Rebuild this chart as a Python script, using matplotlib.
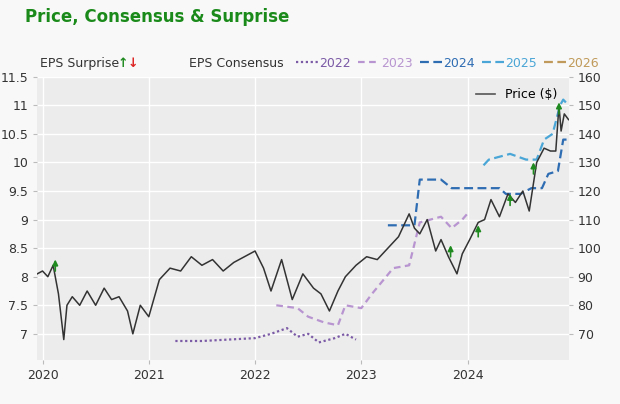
import matplotlib
matplotlib.use('Agg')
import matplotlib.pyplot as plt
from matplotlib.lines import Line2D

# price (right axis)
price_x = [2019.95, 2020.0, 2020.05, 2020.1, 2020.15, 2020.2, 2020.23, 2020.28, 2020.35, 2020.42, 2020.5,
           2020.58, 2020.65, 2020.72, 2020.8, 2020.85, 2020.92, 2021.0, 2021.1, 2021.2, 2021.3,
           2021.4, 2021.5, 2021.6, 2021.7, 2021.8, 2021.9, 2022.0, 2022.08, 2022.15, 2022.25,
           2022.35, 2022.45, 2022.55, 2022.62, 2022.7, 2022.78, 2022.85, 2022.95, 2023.05,
           2023.15, 2023.25, 2023.35, 2023.45, 2023.5, 2023.55, 2023.62, 2023.7, 2023.75, 2023.82,
           2023.9, 2023.95, 2024.02, 2024.1, 2024.16, 2024.22, 2024.3, 2024.38, 2024.45, 2024.52,
           2024.58, 2024.65, 2024.72, 2024.78, 2024.83, 2024.86, 2024.88, 2024.91, 2024.95]
price_y = [91, 92, 90, 94, 84, 68, 80, 83, 80, 85, 80,
           86, 82, 83, 78, 70, 80, 76, 89, 93, 92,
           97, 94, 96, 92, 95, 97, 99, 93, 85, 96,
           82, 91, 86, 84, 78, 85, 90, 94, 97,
           96, 100, 104, 112, 107, 105, 110, 99, 103, 97,
           91, 98, 103, 109, 110, 117, 111, 119, 116, 120,
           113, 130, 135, 134, 134, 150, 141, 147, 145]

con_2022_x = [2021.25, 2021.5, 2021.75, 2022.0, 2022.15, 2022.3, 2022.4, 2022.5, 2022.6, 2022.75, 2022.85, 2022.95]
con_2022_y = [67.5, 67.5, 68, 68.5, 70, 72, 69, 70, 67, 68.5, 70, 68]
con_2023_x = [2022.2, 2022.4, 2022.5, 2022.65, 2022.78, 2022.85, 2023.0, 2023.1, 2023.3, 2023.45, 2023.55, 2023.75, 2023.85, 2023.95, 2024.02]
con_2023_y = [80, 79, 76, 74, 73, 80, 79, 84, 93, 94, 109, 111, 107, 110, 113]
con_2024_x = [2023.25, 2023.5, 2023.55, 2023.75, 2023.85, 2024.3, 2024.36, 2024.5, 2024.6, 2024.7, 2024.76, 2024.85, 2024.9, 2024.95]
con_2024_y = [108, 108, 124, 124, 121, 121, 119, 119, 121, 121, 126, 127, 138, 138]
con_2025_x = [2024.15, 2024.2, 2024.4, 2024.55, 2024.65, 2024.72, 2024.8, 2024.87, 2024.9, 2024.95]
con_2025_y = [129, 131, 133, 131, 131, 138, 140, 150, 152, 150]

surprise_x = [2020.12, 2023.84, 2024.1, 2024.4, 2024.62, 2024.86]
surprise_y = [94, 99, 106, 117, 128, 149]

fig = plt.figure(figsize=(6.2, 4.04), dpi=100)
fig.patch.set_facecolor('#f8f8f8')
ax = fig.add_axes([0.06, 0.11, 0.857, 0.70])
ax.set_facecolor('#ececec')
ax2 = ax.twinx()
ax.plot(price_x, price_y, color='#333333', lw=1.1, zorder=4)
ax.plot(con_2022_x, con_2022_y, color='#7b5aa6', lw=1.6, ls=(0, (1, 1.2)))
ax.plot(con_2023_x, con_2023_y, color='#b895d0', lw=1.6, ls=(0, (3, 2)))
ax.plot(con_2024_x, con_2024_y, color='#2f6db3', lw=1.6, ls=(0, (4, 2)))
ax.plot(con_2025_x, con_2025_y, color='#4aa6d6', lw=1.6, ls=(0, (4, 2)))
for x, y in zip(surprise_x, surprise_y):
    ax.annotate('', xy=(x, y + 3), xytext=(x, y - 3),
                arrowprops=dict(arrowstyle='-|>', color='#1f8a1f', lw=1.2, mutation_scale=8), zorder=5)

ax.set_xlim(2019.95, 2024.95)
ax.set_ylim(61, 160)
ax.set_xticks([2020, 2021, 2022, 2023, 2024])
ax.set_xticklabels(['2020', '2021', '2022', '2023', '2024'])
ax.yaxis.tick_right()
ax.set_yticks(range(70, 161, 10))
ax.grid(color='white', lw=1)
ax.set_axisbelow(True)
for s in ax.spines.values():
    s.set_visible(False)
ax.tick_params(labelsize=9, colors='#333333', length=3, color='#bbbbbb')

ax2.yaxis.tick_left()
ax2.set_ylim(11.5 - (160 - 61) / 20, 11.5)
ax2.set_yticks([7, 7.5, 8, 8.5, 9, 9.5, 10, 10.5, 11, 11.5])
ax2.set_yticklabels(['7', '7.5', '8', '8.5', '9', '9.5', '10', '10.5', '11', '11.5'])
ax2.tick_params(labelsize=9, colors='#333333', length=3, color='#bbbbbb')
for s in ax2.spines.values():
    s.set_visible(False)

ax2.legend([Line2D([], [], color='#555555', lw=1.2)], ['Price ($)'], loc='upper right',
           frameon=False, fontsize=9, handlelength=1.5)

fig.text(0.04, 0.945, 'Price, Consensus & Surprise', color='#1a8a1a', fontsize=12, fontweight='bold')
fig.text(0.065, 0.835, 'EPS Surprise', fontsize=9, color='#333333')
fig.text(0.19, 0.835, '↑', fontsize=9, color='#1f8a1f', fontweight='bold')
fig.text(0.205, 0.835, '↓', fontsize=9, color='#dd2222', fontweight='bold')
fig.text(0.305, 0.835, 'EPS Consensus', fontsize=9, color='#333333')
items = [('2022', '#7b5aa6', (0, (1, 1.2))), ('2023', '#b895d0', (0, (3, 2))),
         ('2024', '#2f6db3', (0, (4, 2))), ('2025', '#4aa6d6', (0, (4, 2))),
         ('2026', '#c09a5a', (0, (4, 2)))]
x0 = 0.478
for lab, c, ls in items:
    fig.add_artist(Line2D([x0, x0 + 0.035], [0.847, 0.847], color=c, ls=ls, lw=1.6))
    fig.text(x0 + 0.037, 0.835, lab, fontsize=9, color=c)
    x0 += 0.1

fig.savefig('out.png', dpi=100, facecolor=fig.get_facecolor())
